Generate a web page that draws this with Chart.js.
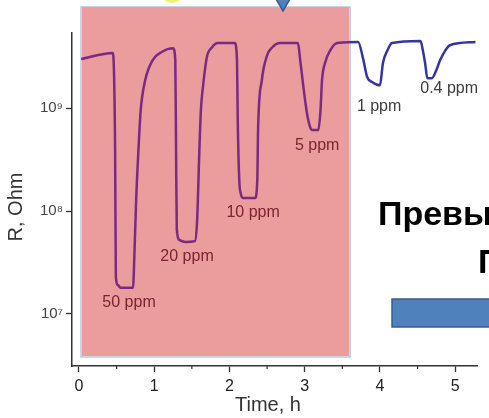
<!DOCTYPE html>
<html>
<head>
<meta charset="utf-8">
<script src="https://cdn.jsdelivr.net/npm/chart.js@4.4.1/dist/chart.umd.min.js"></script>
<style>
  html, body { margin: 0; padding: 0; background: #fff; }
  canvas { display: block; }
</style>
</head>
<body>
<canvas id="sensorChart" width="489" height="418"></canvas>
<script>
// sensor response
const timeH = [0.03, 0.45, 0.48, 0.49, 0.52, 0.55, 0.72, 0.73, 0.76, 0.79, 0.82, 0.88, 0.98, 1.10, 1.25,
  1.28, 1.29, 1.30, 1.34, 1.42, 1.54, 1.57, 1.60, 1.62, 1.65, 1.70, 1.77, 1.84, 2.07,
  2.10, 2.11, 2.13, 2.15, 2.18, 2.34, 2.37, 2.38, 2.43, 2.50, 2.57, 2.67, 2.91,
  2.94, 2.98, 3.03, 3.07, 3.10, 3.18, 3.21, 3.23, 3.27, 3.34, 3.43, 3.71,
  3.78, 3.83, 3.90, 4.00, 4.04, 4.10, 4.16, 4.54, 4.57, 4.60, 4.63, 4.69,
  4.75, 4.80, 4.87, 4.93, 5.27];
const resistance = [2.99e9, 3.42e9, 3.9e8, 2.3e7, 1.9e7, 1.8e7, 1.8e7, 2.7e7, 1.3e8, 3.9e8, 9.5e8, 1.86e9, 2.92e9, 3.5e9, 3.8e9,
  2.92e9, 3.9e8, 6.6e7, 5.2e7, 5.0e7, 5.1e7, 8.1e7, 3.9e8, 9.5e8, 1.66e9, 3.13e9, 3.89e9, 4.27e9, 4.27e9,
  2.92e9, 7.6e8, 2.0e8, 1.48e8, 1.34e8, 1.34e8, 2.0e8, 6.1e8, 1.86e9, 3.24e9, 3.89e9, 4.27e9, 4.27e9,
  2.92e9, 1.66e9, 8.9e8, 6.6e8, 6.1e8, 6.1e8, 9.5e8, 1.86e9, 2.74e9, 3.63e9, 4.27e9, 4.37e9,
  2.92e9, 2.0e9, 1.78e9, 1.66e9, 2.74e9, 3.63e9, 4.27e9, 4.47e9, 3.63e9, 2.74e9, 1.95e9, 1.95e9,
  2.34e9, 2.92e9, 3.63e9, 4.07e9, 4.37e9];

const xTickValues = [0, 1, 2, 3, 4, 5];
const xMinorValues = [0.5, 1.5, 2.5, 3.5, 4.5];
const yTickValues = [1e7, 1e8, 1e9];
const yTickLabels = ['10⁷', '10⁸', '10⁹'];

// concentration labels next to each dip
const ppmLabels = ['50 ppm', '20 ppm', '10 ppm', '5 ppm', '1 ppm', '0.4 ppm'];
const ppmTime = [0.665, 1.436, 2.314, 3.165, 3.989, 4.92];
const ppmR = [1.28e7, 3.57e7, 9.55e7, 4.28e8, 1.04e9, 1.56e9];

const SHADE_FROM = 0.04; // pink box, in hours
const SHADE_TO = 3.59;

const FONT = '"Liberation Sans", Arial, sans-serif';

function shadeBox(chart) {
    const x = chart.scales.x;
    const left = x.getPixelForValue(SHADE_FROM);
    const right = x.getPixelForValue(SHADE_TO);
    return { left: left, top: 7, width: right - left, height: chart.chartArea.bottom - 10 - 7 };
}

const slidePlugin = {
    id: 'slide',
    beforeDatasetsDraw(chart) {
        const ctx = chart.ctx;
        const b = shadeBox(chart);
        ctx.save();
        ctx.fillStyle = '#eb9c9c';
        ctx.fillRect(b.left, b.top, b.width, b.height);
        ctx.strokeStyle = '#aab8d6';
        ctx.lineWidth = 1.2;
        ctx.strokeRect(b.left - 1, b.top, b.width + 2, b.height + 1);
        ctx.restore();
    },
    beforeDatasetDraw(chart, args) {
        // purple copy inside the box, blue copy outside it
        const ctx = chart.ctx;
        const b = shadeBox(chart);
        ctx.save();
        ctx.beginPath();
        if (args.index === 1) {
            ctx.rect(0, 0, chart.width, chart.height);
        }
        ctx.rect(b.left, b.top, b.width, b.height);
        ctx.clip('evenodd');
    },
    afterDatasetDraw(chart) {
        chart.ctx.restore();
    },
    afterDraw(chart) {
        const ctx = chart.ctx;
        const x = chart.scales.x;
        const y = chart.scales.y;
        const bottom = chart.chartArea.bottom;
        ctx.save();

        // minor ticks on the time axis
        ctx.strokeStyle = '#333';
        ctx.lineWidth = 1.2;
        xMinorValues.forEach(v => {
            const px = x.getPixelForValue(v);
            ctx.beginPath();
            ctx.moveTo(px, bottom);
            ctx.lineTo(px, bottom + 3);
            ctx.stroke();
        });

        // ppm labels
        ctx.font = '16px ' + FONT;
        ctx.textAlign = 'center';
        ctx.textBaseline = 'middle';
        ppmLabels.forEach((txt, i) => {
            ctx.fillStyle = ppmTime[i] < SHADE_TO ? '#7b2431' : '#3c3c3c';
            ctx.fillText(txt, x.getPixelForValue(ppmTime[i]), y.getPixelForValue(ppmR[i]));
        });

        // axis titles
        ctx.fillStyle = '#333';
        ctx.font = '20px ' + FONT;
        ctx.fillText('Time, h', 268, 405);
        ctx.save();
        ctx.translate(16, 207);
        ctx.rotate(-Math.PI / 2);
        ctx.fillText('R, Ohm', 0, 0);
        ctx.restore();

        // bits of the slide around the chart
        ctx.fillStyle = '#000';
        ctx.font = 'bold 34px ' + FONT;
        ctx.textAlign = 'left';
        ctx.textBaseline = 'alphabetic';
        ctx.fillText('Превы', 378, 225);
        ctx.fillText('П', 478, 273);

        ctx.fillStyle = '#4f81bd';
        ctx.strokeStyle = '#385d8a';
        ctx.lineWidth = 1.5;
        ctx.fillRect(392, 299, 110, 28);
        ctx.strokeRect(392, 299, 110, 28);

        ctx.beginPath();
        ctx.moveTo(276, -1);
        ctx.lineTo(290, -1);
        ctx.lineTo(283, 11);
        ctx.closePath();
        ctx.fill();
        ctx.stroke();

        ctx.fillStyle = '#f6f070';
        ctx.beginPath();
        ctx.ellipse(172, -10, 13, 13, 0, 0, Math.PI * 2);
        ctx.fill();

        ctx.restore();
    }
};

const points = timeH.map((t, i) => ({ x: t, y: resistance[i] }));

const ctx = document.getElementById('sensorChart').getContext('2d');
const chart = new Chart(ctx, {
    type: 'line',
    data: {
        datasets: [
            { data: points, borderColor: '#7a2a80', borderWidth: 2.5, pointRadius: 0, cubicInterpolationMode: 'monotone' },
            { data: points, borderColor: '#3535a0', borderWidth: 2.5, pointRadius: 0, cubicInterpolationMode: 'monotone' }
        ]
    },
    options: {
        responsive: false,
        devicePixelRatio: 1,
        animation: false,
        layout: { padding: { top: 33, right: 12, bottom: 0, left: 0 } },
        plugins: {
            legend: { display: false },
            tooltip: { enabled: false }
        },
        scales: {
            x: {
                type: 'linear',
                min: -0.093,
                max: 5.29,
                afterBuildTicks: s => { s.ticks = xTickValues.map(v => ({ value: v })); },
                afterFit: s => { s.height = 52; },
                ticks: { autoSkip: false, maxRotation: 0, padding: 5, color: '#222', font: { family: FONT, size: 16 }, callback: v => String(v) },
                grid: { drawOnChartArea: false, tickLength: 6, tickColor: '#333', tickWidth: 1.3 },
                border: { color: '#333', width: 1.5 }
            },
            y: {
                type: 'logarithmic',
                min: 3.126e6,
                max: 5.35e9,
                afterBuildTicks: s => { s.ticks = yTickValues.map(v => ({ value: v })); },
                afterFit: s => { s.width = 72; },
                ticks: { autoSkip: false, padding: 3, color: '#444', font: { family: FONT, size: 15 },
                    callback: v => yTickLabels[yTickValues.indexOf(v)] || '' },
                grid: { drawOnChartArea: false, tickLength: 6, tickColor: '#333', tickWidth: 1.3 },
                border: { color: '#333', width: 1.5 }
            }
        }
    },
    plugins: [slidePlugin]
});
</script>
</body>
</html>
